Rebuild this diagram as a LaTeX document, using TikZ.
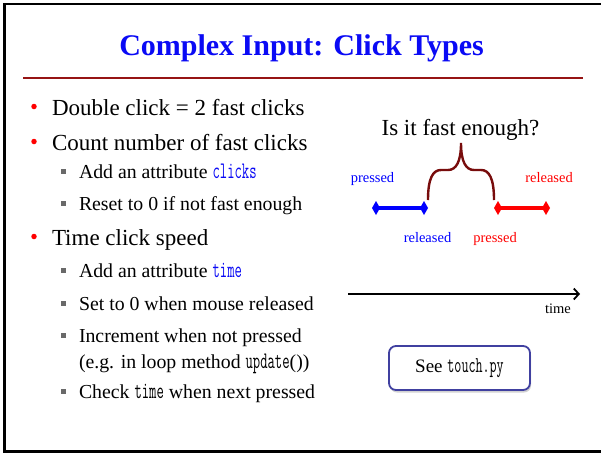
\documentclass[tikz,border=0pt]{standalone}
\usepackage{fontspec}
\setmainfont{Liberation Serif}
\newfontfamily\codefont[Scale=1.2,FakeStretch=0.6]{Latin Modern Mono}
\usetikzlibrary{arrows.meta,shadows}
\definecolor{titleblue}{RGB}{10,10,245}
\definecolor{rulered}{RGB}{150,20,20}
\definecolor{bracered}{RGB}{120,12,12}
\definecolor{boxblue}{RGB}{64,64,160}
\definecolor{squaregray}{RGB}{105,105,105}
\newcommand\codeword[1]{{\codefont #1}}

\begin{document}
\begin{tikzpicture}[x=1pt,y=-1pt,
  every node/.style={inner sep=0pt, outer sep=0pt},
  title/.style={anchor=base, font=\fontsize{30}{34}\selectfont\bfseries, text=titleblue},
  bodytext/.style={anchor=base west, font=\fontsize{23}{27}\selectfont},
  subtext/.style={anchor=base west, font=\fontsize{19.8}{23}\selectfont},
  reddot/.style={circle, fill=red, minimum size=5.5pt},
  graysq/.style={rectangle, fill=squaregray, minimum size=5pt},
  ticklabel/.style={anchor=base, font=\fontsize{14.5}{17}\selectfont},
  segment/.style={line width=4pt, {Diamond[length=8pt,width=14pt]}-{Diamond[length=8pt,width=14pt]}},
  brace/.style={draw=bracered, line width=2.4pt},
  codebox/.style={draw=boxblue, line width=1.8pt, rounded corners=7pt, fill=white,
    minimum width=141pt, minimum height=44pt,
    font=\fontsize{19}{22}\selectfont,
    drop shadow={opacity=0.35, shadow xshift=1pt, shadow yshift=-2.5pt}},
]
\useasboundingbox (0,0) rectangle (601,453);
\fill[white] (0,0) rectangle (601,453);

% slide frame (open on the right)
\draw[line width=2.8pt] (605,4) -- (4.6,4) -- (4.6,451.8) -- (605,451.8);

% heading and rule
\node[title] (heading) at (301.5,55) {Complex Input: Click Types};
\draw[rulered, line width=1.6pt] (23,77.8) -- (583,77.8);

% bullet list
\node[reddot] (b1) at (34,106.5) {};
\node[bodytext] (t1) at (52,115) {Double click = 2 fast clicks};
\node[reddot] (b2) at (34,141.5) {};
\node[bodytext] (t2) at (52,150) {Count number of fast clicks};
\node[graysq] (s1) at (63.5,171) {};
\node[subtext] (u1) at (79,178) {Add an attribute \textcolor{titleblue}{\codeword{clicks}}};
\node[graysq] (s2) at (63.5,203) {};
\node[subtext] (u2) at (79,210) {Reset to 0 if not fast enough};
\node[reddot] (b3) at (34,236.5) {};
\node[bodytext] (t3) at (52,245) {Time click speed};
\node[graysq] (s3) at (63.5,270) {};
\node[subtext] (u3) at (79,277) {Add an attribute \textcolor{titleblue}{\codeword{time}}};
\node[graysq] (s4) at (63.5,303) {};
\node[subtext] (u4) at (79,310) {Set to 0 when mouse released};
\node[graysq] (s5) at (63.5,335) {};
\node[subtext] (u5) at (79,342) {Increment when not pressed};
\node[subtext] (u5b) at (79,368) {(e.g. in loop method \codeword{update}())};
\node[graysq] (s6) at (63.5,391) {};
\node[subtext] (u6) at (79,398) {Check \codeword{time} when next pressed};

% click timeline
\node[anchor=base, font=\fontsize{23}{27}\selectfont] (question) at (460.5,135) {Is it fast enough?};
\coordinate (bl) at (372,208);
\coordinate (br) at (428,208);
\coordinate (rl) at (494,208);
\coordinate (rr) at (550,208);
\coordinate (braceL) at (428,200);
\coordinate (braceR) at (494,200);
\coordinate (braceTip) at (461,143);
\draw[segment, blue] (bl) -- (br);
\draw[segment, red] (rl) -- (rr);
\draw[brace] (braceL) .. controls (428,178) and (433,170) .. (441,170) -- (448,170)
  .. controls (456,170) and (461,162) .. (braceTip)
  .. controls (461,162) and (466,170) .. (474,170) -- (481,170)
  .. controls (489,170) and (494,178) .. (braceR);
\node[ticklabel, text=blue] (p1) at (372.5,182) {pressed};
\node[ticklabel, text=blue] (r1) at (427.5,242) {released};
\node[ticklabel, text=red] (p2) at (495,242) {pressed};
\node[ticklabel, text=red] (r2) at (549,182) {released};

% time axis
\coordinate (axisStart) at (348,294);
\coordinate (axisEnd) at (580,294);
\draw[line width=1.8pt, -{Straight Barb[length=5pt,width=11pt]}] (axisStart) -- (axisEnd);
\node[ticklabel] (timelabel) at (558,313) {time};

% pointer to the source file
\node[codebox] (seefile) at (459.5,368) {See \codeword{touch.py}};
\end{tikzpicture}
\end{document}
